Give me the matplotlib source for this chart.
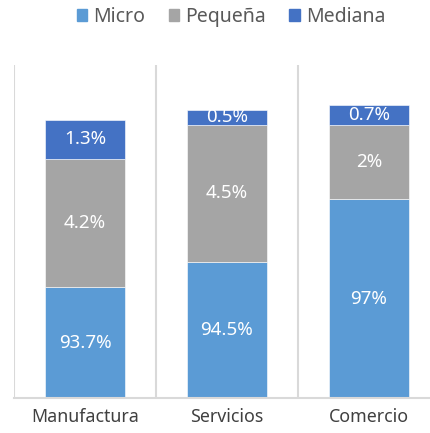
import matplotlib.pyplot as plt
from matplotlib.patches import Patch

plt.rcParams['font.family'] = ['Noto Sans', 'DejaVu Sans']

categorias = ['Manufactura', 'Servicios', 'Comercio']
series = ['Micro', 'Pequeña', 'Mediana']
colores = ['#5B9BD5', '#A5A5A5', '#4472C4']

# altura de cada segmento (escala del grafico original)
micro = [111, 136, 199]
pequena = [128, 137, 74]
mediana = [39.5, 15, 20.5]
valores = [micro, pequena, mediana]

# etiquetas mostradas en cada segmento
et_micro = ['93.7%', '94.5%', '97%']
et_pequena = ['4.2%', '4.5%', '2%']
et_mediana = ['1.3%', '0.5%', '0.7%']
etiquetas = [et_micro, et_pequena, et_mediana]

fig = plt.figure(figsize=(4.30, 4.33), dpi=100)
ax = fig.add_axes([14/430, 35/433, 426/430, 333/433])

x = list(range(len(categorias)))
base = [0, 0, 0]
for vals, labs, col in zip(valores, etiquetas, colores):
    barras = ax.bar(x, vals, width=0.563, bottom=base, color=col,
                    edgecolor='white', linewidth=0.4)
    ax.bar_label(barras, labels=labs, label_type='center', color='white',
                 fontsize=13.5)
    base = [b + v for b, v in zip(base, vals)]

for sep in [-0.5, 0.5, 1.5, 2.5]:
    ax.axvline(sep, color='#D9D9D9', linewidth=1.5, zorder=0)

ax.set_xlim(-0.5, 2.5)
ax.set_ylim(0, 333)
ax.set_xticks(x)
ax.set_xticklabels(categorias, fontsize=12.8, color='#404040')
ax.tick_params(axis='x', length=0, pad=7)
ax.set_yticks([])
for s in ['top', 'right', 'left']:
    ax.spines[s].set_visible(False)
ax.spines['bottom'].set_color('#D9D9D9')
ax.spines['bottom'].set_linewidth(1.5)

handles = [Patch(color=c, label=s) for s, c in zip(series, colores)]
leg = fig.legend(handles=handles, loc='center', bbox_to_anchor=(231/430, 1 - 17/433),
                 ncol=3, frameon=False, fontsize=14, handlelength=0.55,
                 handleheight=0.55, handletextpad=0.3, columnspacing=1.2)
for t in leg.get_texts():
    t.set_color('#595959')

fig.savefig('out.png', dpi=100)
